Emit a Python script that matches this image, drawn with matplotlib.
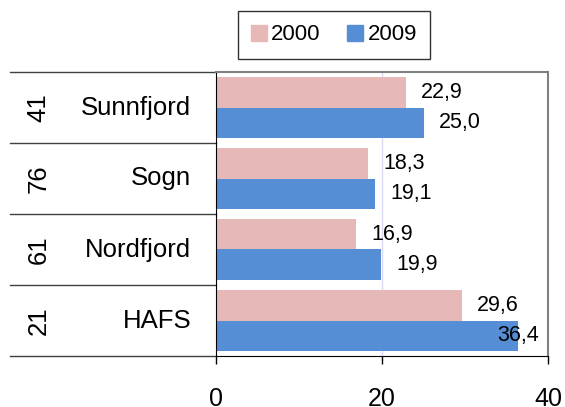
import numpy as np
import matplotlib
matplotlib.use("Agg")
import matplotlib.pyplot as plt
from matplotlib.patches import Patch
from matplotlib.lines import Line2D

plt.rcParams['font.family'] = ['Liberation Sans', 'DejaVu Sans']

regions = ["Sunnfjord", "Sogn", "Nordfjord", "HAFS"]
counts = ["41", "76", "61", "21"]
val_2000 = [22.9, 18.3, 16.9, 29.6]
val_2009 = [25.0, 19.1, 19.9, 36.4]
xticks = [0, 20, 40]

c2000 = "#E6B8B7"
c2009 = "#558ED5"

fig = plt.figure(figsize=(5.65, 4.07), dpi=100)
ax = fig.add_axes([216/565, 1-356/407, 332/565, 284/407])

y = np.arange(len(regions))
h = 0.43
ax.barh(y - h/2, val_2000, height=h, color=c2000, zorder=2)
ax.barh(y + h/2, val_2009, height=h, color=c2009, zorder=2)

ax.set_xlim(0, 40)
ax.set_ylim(len(regions) - 0.5, -0.5)
ax.set_xticks(xticks)
ax.set_xticklabels([str(t) for t in xticks], fontsize=18)
ax.tick_params(axis='x', length=6, width=1, pad=16, direction='out')
ax.set_yticks([])
ax.axvline(20, color="#D8D8F4", lw=1, zorder=1)

for s in ['top', 'right']:
    ax.spines[s].set_color("#808080")
    ax.spines[s].set_linewidth(1.5)
ax.spines['left'].set_color("black")
ax.spines['bottom'].set_color("black")

# value labels
def lab(v):
    return f"{v:.1f}".replace('.', ',')

for i in range(len(regions)):
    for v, yy in ((val_2000[i], y[i] - h/2), (val_2009[i], y[i] + h/2)):
        off = 26 if v + 4.4 < 39 else 0
        ax.annotate(lab(v), xy=(v, yy), xytext=(off, 0), textcoords='offset points',
                    ha='center', va='center', fontsize=15.5, zorder=3)

# category table on the left
trans = ax.get_yaxis_transform()
for b in np.arange(len(regions) + 1) - 0.5:
    ax.add_line(Line2D([-0.62, 0], [b, b], transform=trans, color="#404040",
                       lw=1, clip_on=False))
for i in range(len(regions)):
    ax.text(-0.075, y[i], regions[i], transform=trans, ha='right', va='center',
            fontsize=18.5)
    ax.text(-0.535, y[i], counts[i], transform=trans, ha='center', va='center',
            fontsize=18.5, rotation=90)

handles = [Patch(color=c2000, label="2000"), Patch(color=c2009, label="2009")]
leg = fig.legend(handles=handles, loc='center', bbox_to_anchor=(334/565, 1-35/407),
                 ncol=2, fontsize=16, frameon=True, fancybox=False,
                 handlelength=0.7, handleheight=0.7, handletextpad=0.2,
                 columnspacing=1.2, borderpad=0.6)
leg.get_frame().set_edgecolor("black")
leg.get_frame().set_linewidth(1)

plt.savefig("out.png", dpi=100)
